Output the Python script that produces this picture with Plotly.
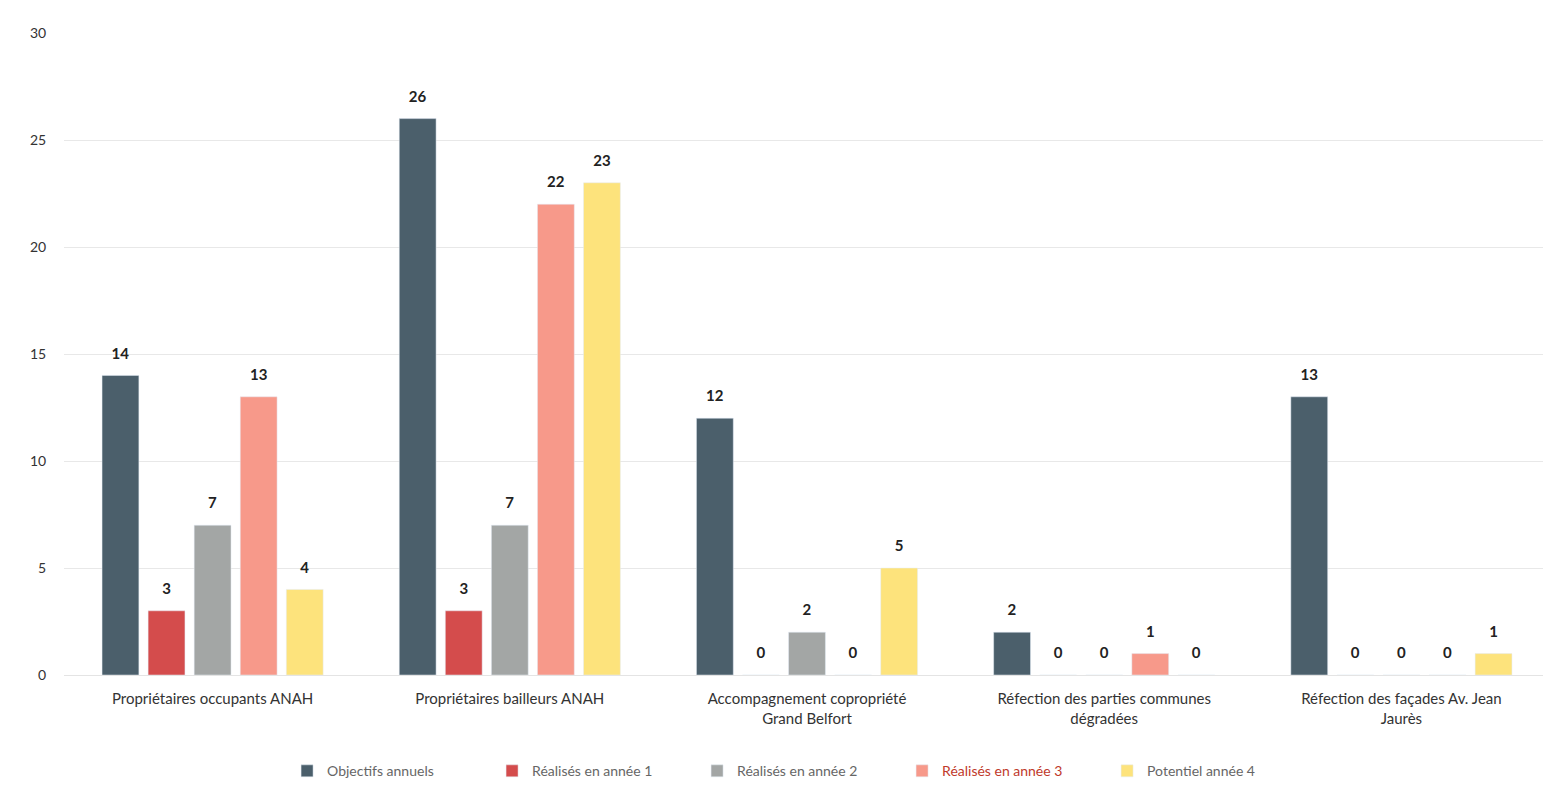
import plotly.graph_objects as go

categories = [
    "Propriétaires occupants ANAH",
    "Propriétaires bailleurs ANAH",
    "Accompagnement copropriété<br>Grand Belfort",
    "Réfection des parties communes<br>dégradées",
    "Réfection des façades Av. Jean<br>Jaurès",
]
series_names = [
    "Objectifs annuels",
    "Réalisés en année 1",
    "Réalisés en année 2",
    "<span style='color:#c0392b'>Réalisés en année 3</span>",
    "Potentiel année 4",
]
objectifs = [14, 26, 12, 2, 13]
annee1 = [3, 3, 0, 0, 0]
annee2 = [7, 7, 2, 0, 0]
annee3 = [13, 22, 0, 1, 0]
annee4 = [4, 23, 5, 0, 1]
colors = ["#4b5f6b", "#d44c4c", "#a3a6a5", "#f7998a", "#fde37c"]
y_ticks = [0, 5, 10, 15, 20, 25, 30]

fig = go.Figure()
for name, vals, col in zip(series_names, [objectifs, annee1, annee2, annee3, annee4], colors):
    fig.add_trace(go.Bar(
        x=categories, y=vals, name=name, marker_color=col,
        texttemplate="<span style='font-size:15px'><b>%{y}</b></span><br> ",
        textposition="outside", cliponaxis=False,
        textfont=dict(size=9, color="#222222", family="Lato"),
    ))

fig.update_layout(
    width=1551, height=803,
    paper_bgcolor="white", plot_bgcolor="white",
    barmode="group", bargap=0.225, bargroupgap=0.2,
    margin=dict(l=56, r=9, t=25, b=136, autoexpand=False),
    font=dict(family="Lato", size=14, color="#444444"),
    legend=dict(orientation="h", x=0.495, xanchor="center", y=-0.125, yanchor="top",
                font=dict(size=14, color="#666666"), itemwidth=30,
                entrywidth=160, entrywidthmode="pixels"),
    uniformtext=dict(minsize=3, mode="show"),
)
fig.update_yaxes(range=[0, 30], tickvals=y_ticks, showgrid=True, gridcolor="#e8e8e8",
                 zeroline=False, ticks="outside", ticklen=14, tickcolor="white",
                 automargin=False, tickfont=dict(size=14, color="#333333"))
fig.update_xaxes(showline=True, linecolor="#e4e4e4", ticks="outside", ticklen=10,
                 tickcolor="white", automargin=False,
                 tickfont=dict(size=15, color="#333333"))

fig.write_html("out.html")
